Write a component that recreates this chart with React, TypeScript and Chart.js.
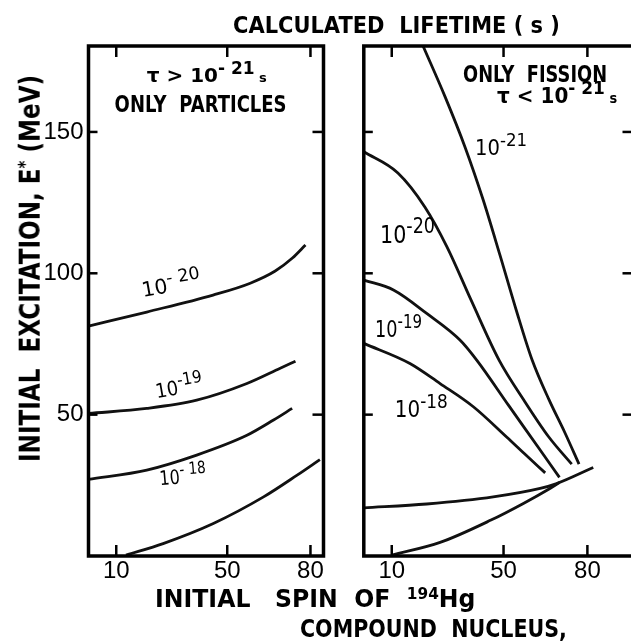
import React, { useEffect, useLayoutEffect, useRef, useState } from 'react';
import { Chart, registerables } from 'chart.js';

Chart.register(...registerables);

// ---------- axis ticks ----------
const spinTicks = [10, 50, 80];
const excitationTicks = [50, 100, 150];
const EXC_MAX = 180.4;

// ---------- left panel: tau > 1e-21 s, only particles ----------
const part20Spin = [0, 21, 44.9, 58.3, 67.3, 73.5, 78.2];
const part20Exc = [81.3, 86.3, 92.3, 96.5, 100.8, 105.4, 110];
const part19Spin = [0, 21, 39, 57.1, 69.1, 74.6];
const part19Exc = [50.4, 52.2, 55.1, 61, 66.4, 68.9];
const part18Spin = [0, 21, 39, 57.1, 66.7, 73.4];
const part18Exc = [27.1, 30.4, 35.7, 42.7, 48.1, 52.2];
const partBaseSpin = [13.5, 26.9, 45, 63.1, 75.2, 83.4];
const partBaseExc = [0.3, 4.4, 11.5, 20.9, 28.6, 34.1];

// ---------- right panel: only fission, tau < 1e-21 s ----------
const fis21Spin = [21.2, 29.1, 36.2, 42.7, 48.7, 54.5, 60.2, 66.3, 72, 77];
const fis21Exc = [180.4, 162.4, 144.7, 126, 106.5, 87.1, 69.4, 55.2, 43.5, 32.5];
const fis20Spin = [0, 12.2, 21.9, 29.8, 38.4, 48.4, 57.3, 66.2, 74.4];
const fis20Exc = [143, 135.5, 123.4, 109.3, 90.5, 69.3, 55.1, 42.1, 32.5];
const fis19Spin = [0, 10.6, 22.5, 34.4, 40.4, 52, 63.1, 70];
const fis19Exc = [97.6, 94.1, 85.8, 76.4, 69.3, 53, 37.5, 27.8];
const fis18Spin = [0, 16.5, 27.3, 39.2, 51.1, 58, 64.9];
const fis18Exc = [75.2, 68.1, 61, 52.8, 42.1, 35.7, 29.4];
const fisFlatSpin = [0, 22.5, 46.3, 63.1, 69, 82.1];
const fisFlatExc = [17, 18.4, 20.9, 23.9, 25.6, 31.3];
const fisBaseSpin = [10, 27.3, 45.5, 57.1, 66.6, 70];
const fisBaseExc = [0.3, 4.8, 12.7, 18.6, 23.9, 26];

type Part = { t: string; sup?: boolean; small?: boolean };
type Note = { parts: Part[]; x: number; y: number; size: number; width: number; angle?: number; bold?: boolean };

const particleNotes: Note[] = [
  { parts: [{ t: 'τ > 10' }, { t: '- 21', sup: true }, { t: ' s', small: true }], x: 21, y: 167.7, size: 20, width: 120, bold: true },
  { parts: [{ t: 'ONLY  PARTICLES' }], x: 9.4, y: 157.1, size: 23, width: 172, bold: true },
  { parts: [{ t: '10' }, { t: '- 20', sup: true }], x: 19.6, y: 91.6, size: 20.5, width: 60, angle: -10 },
  { parts: [{ t: '10' }, { t: '-19', sup: true }], x: 24.6, y: 55.8, size: 20, width: 48, angle: -10 },
  { parts: [{ t: '10' }, { t: '- 18', sup: true }], x: 25.8, y: 25, size: 20, width: 47, angle: -5 },
];

const fissionNotes: Note[] = [
  { parts: [{ t: 'ONLY  FISSION' }], x: 35.5, y: 167.7, size: 23, width: 144, bold: true },
  { parts: [{ t: 'τ < 10' }, { t: '- 21', sup: true }, { t: ' s', small: true }], x: 47.7, y: 160.3, size: 21, width: 120, bold: true },
  { parts: [{ t: '10' }, { t: '-21', sup: true }], x: 39.8, y: 141.9, size: 20.5, width: 52 },
  { parts: [{ t: '10' }, { t: '-20', sup: true }], x: 5.8, y: 110.7, size: 24, width: 55 },
  { parts: [{ t: '10' }, { t: '-19', sup: true }], x: 4, y: 77.3, size: 23, width: 47 },
  { parts: [{ t: '10' }, { t: '-18', sup: true }], x: 11.1, y: 49, size: 23, width: 53 },
];

const TICK_FONT = { family: "'Liberation Sans Narrow', 'Liberation Sans', Arial, sans-serif", size: 24 };
const TEXT_FAMILY = '"DejaVu Sans", sans-serif';

function drawRich(ctx: CanvasRenderingContext2D, px: number, py: number, n: Note) {
  const w = n.bold ? 'bold ' : '';
  const sizes = n.parts.map((p) => (p.sup ? n.size * 0.85 : p.small ? n.size * 0.65 : n.size));
  let total = 0;
  n.parts.forEach((p, i) => {
    ctx.font = `${w}${sizes[i]}px ${TEXT_FAMILY}`;
    total += ctx.measureText(p.t).width;
  });
  const sx = n.width / total;
  ctx.save();
  ctx.translate(px, py);
  ctx.rotate(((n.angle || 0) * Math.PI) / 180);
  ctx.scale(sx, 1);
  ctx.fillStyle = '#000';
  ctx.textAlign = 'left';
  ctx.textBaseline = 'alphabetic';
  let cx = 0;
  n.parts.forEach((p, i) => {
    ctx.font = `${w}${sizes[i]}px ${TEXT_FAMILY}`;
    ctx.fillText(p.t, cx, p.sup ? -n.size * 0.42 : 0);
    cx += ctx.measureText(p.t).width;
  });
  ctx.restore();
}

const framePlugin = (notes: Note[]) => ({
  id: 'frameAndNotes',
  afterDraw(chart: any) {
    const { ctx, chartArea: a, scales } = chart;
    const xs = scales.x;
    const ys = scales.y;
    const line = (x1: number, y1: number, x2: number, y2: number) => {
      ctx.beginPath();
      ctx.moveTo(x1, y1);
      ctx.lineTo(x2, y2);
      ctx.stroke();
    };
    ctx.save();
    ctx.strokeStyle = '#000';
    ctx.lineWidth = 2.5;
    spinTicks.forEach((v) => {
      const p = xs.getPixelForValue(v);
      line(p, a.bottom, p, a.bottom - 11);
      line(p, a.top, p, a.top + 11);
    });
    excitationTicks.forEach((v) => {
      const p = ys.getPixelForValue(v);
      line(a.left, p, a.left + 9, p);
      line(a.right, p, a.right - 11, p);
    });
    ctx.lineWidth = 3.5;
    ctx.strokeRect(a.left, a.top, a.right - a.left, a.bottom - a.top);
    notes.forEach((n) => drawRich(ctx, xs.getPixelForValue(n.x), ys.getPixelForValue(n.y), n));
    ctx.restore();
  },
});

type Series = { xs: number[]; ys: number[] };

function Panel(props: {
  left: number;
  width: number;
  xMax: number;
  series: Series[];
  showY: boolean;
  padLeft: number;
  padRight: number;
  notes: Note[];
}) {
  const ref = useRef<HTMLCanvasElement>(null);
  useEffect(() => {
    const { xMax, series, showY, padLeft, padRight, notes } = props;
    const chart = new Chart(ref.current as HTMLCanvasElement, {
      type: 'line',
      data: {
        datasets: series.map((s) => ({
          data: s.xs.map((x, i) => ({ x, y: s.ys[i] })),
          borderColor: '#111',
          borderWidth: 2.8,
          pointRadius: 0,
          cubicInterpolationMode: 'monotone' as const,
          fill: false,
        })),
      },
      options: {
        animation: false,
        responsive: false,
        maintainAspectRatio: false,
        devicePixelRatio: 1,
        layout: { padding: { top: 46, left: showY ? 0 : padLeft, right: padRight, bottom: 0 } },
        plugins: { legend: { display: false }, tooltip: { enabled: false }, title: { display: false } },
        scales: {
          x: {
            type: 'linear',
            min: 0,
            max: xMax,
            grid: { display: false, drawTicks: false },
            border: { display: false },
            afterBuildTicks: (s: any) => {
              s.ticks = spinTicks.map((value) => ({ value }));
            },
            afterFit: (s: any) => {
              s.height = 44;
            },
            ticks: { font: TICK_FONT, color: '#000', padding: 1, maxRotation: 0, autoSkip: false },
          },
          y: showY
            ? {
                type: 'linear',
                min: 0,
                max: EXC_MAX,
                grid: { display: false, drawTicks: false },
                border: { display: false },
                afterBuildTicks: (s: any) => {
                  s.ticks = excitationTicks.map((value) => ({ value }));
                },
                afterFit: (s: any) => {
                  s.width = padLeft;
                },
                ticks: { font: TICK_FONT, color: '#000', padding: 5 },
              }
            : { type: 'linear', min: 0, max: EXC_MAX, display: false },
        },
      } as any,
      plugins: [framePlugin(notes)],
    });
    return () => chart.destroy();
  }, []);
  return (
    <canvas
      ref={ref}
      width={props.width}
      height={600}
      style={{ position: 'absolute', left: props.left, top: 0, width: props.width, height: 600 }}
    />
  );
}

function Sup({ children }: { children: React.ReactNode }) {
  return <span style={{ fontSize: '0.65em', position: 'relative', top: '-0.5em' }}>{children}</span>;
}

function Stretch(props: { x: number; y: number; fs: number; w: number; rotate?: boolean; bold?: boolean; children: React.ReactNode }) {
  const ref = useRef<HTMLDivElement>(null);
  const [s, setS] = useState(1);
  useLayoutEffect(() => {
    if (ref.current) setS(props.w / ref.current.offsetWidth);
  }, [props.w]);
  const base = 0.846 * props.fs;
  const tf = props.rotate
    ? `translate(${props.x}px, ${props.y}px) rotate(-90deg) scaleX(${s}) translate(0px, ${-base}px)`
    : `translate(${props.x}px, ${props.y}px) scaleX(${s}) translate(0px, ${-base}px)`;
  return (
    <div
      ref={ref}
      style={{
        position: 'absolute',
        left: 0,
        top: 0,
        whiteSpace: 'pre',
        fontFamily: TEXT_FAMILY,
        fontSize: props.fs,
        lineHeight: `${props.fs}px`,
        fontWeight: props.bold ? 'bold' : 'normal',
        transformOrigin: '0 0',
        transform: tf,
        color: '#000',
      }}
    >
      {props.children}
    </div>
  );
}

export default function App() {
  const particleSeries: Series[] = [
    { xs: part20Spin, ys: part20Exc },
    { xs: part19Spin, ys: part19Exc },
    { xs: part18Spin, ys: part18Exc },
    { xs: partBaseSpin, ys: partBaseExc },
  ];
  const fissionSeries: Series[] = [
    { xs: fis21Spin, ys: fis21Exc },
    { xs: fis20Spin, ys: fis20Exc },
    { xs: fis19Spin, ys: fis19Exc },
    { xs: fis18Spin, ys: fis18Exc },
    { xs: fisFlatSpin, ys: fisFlatExc },
    { xs: fisBaseSpin, ys: fisBaseExc },
  ];
  return (
    <div style={{ position: 'absolute', left: 0, top: 0, width: 631, height: 643, overflow: 'hidden', background: '#fff' }}>
      <Panel left={0} width={330} xMax={84.7} series={particleSeries} showY={true} padLeft={88.5} padRight={6.5} notes={particleNotes} />
      <Panel left={330} width={310} xMax={96.5} series={fissionSeries} showY={false} padLeft={33.8} padRight={6.5} notes={fissionNotes} />
      <Stretch x={233} y={33} fs={22.6} w={327} bold>
        CALCULATED  LIFETIME ( s )
      </Stretch>
      <Stretch x={155} y={608} fs={24.7} w={320} bold>
        INITIAL   SPIN  OF  <Sup>194</Sup>Hg
      </Stretch>
      <Stretch x={300} y={637} fs={24} w={267} bold>
        COMPOUND  NUCLEUS,
      </Stretch>
      <Stretch x={40.7} y={462} fs={28.4} w={387} rotate bold>
        INITIAL  EXCITATION, E<Sup>*</Sup> (MeV)
      </Stretch>
    </div>
  );
}
